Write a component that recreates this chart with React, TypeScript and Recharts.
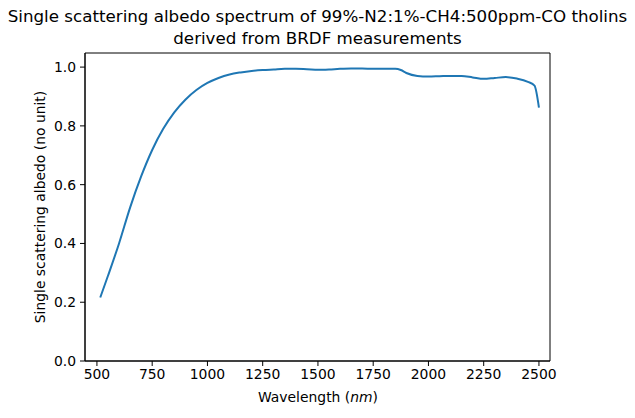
import { LineChart, Line, XAxis, YAxis, ReferenceArea } from "recharts";

const wavelengths = [
  515, 550, 600, 650, 700, 750, 800, 850, 900, 950, 1000, 1050, 1100, 1150, 1200,
  1250, 1300, 1350, 1400, 1450, 1500, 1550, 1600, 1650, 1700, 1750, 1800, 1850,
  1875, 1900, 1950, 2000, 2050, 2100, 2150, 2200, 2250, 2300, 2350, 2400, 2450,
  2480, 2500,
];
const albedo = [
  0.216, 0.29, 0.4, 0.522, 0.628, 0.718, 0.79, 0.846, 0.889, 0.922, 0.946,
  0.963, 0.975, 0.982, 0.987, 0.99, 0.992, 0.994, 0.994, 0.993, 0.991, 0.992,
  0.994, 0.995, 0.995, 0.994, 0.994, 0.994, 0.99, 0.98, 0.97, 0.968, 0.969,
  0.97, 0.97, 0.965, 0.96, 0.963, 0.966, 0.961, 0.95, 0.937, 0.862,
];
const xTicks = [500, 750, 1000, 1250, 1500, 1750, 2000, 2250, 2500];
const yTicks = [0, 0.2, 0.4, 0.6, 0.8, 1.0];
const xDomain = [446, 2550];
const yDomain = [0, 1.048];

const data = wavelengths.map((w, i) => ({ w, a: albedo[i] }));

const font = "DejaVu Sans, sans-serif";
const tickStyle = { fontSize: 13.9, fill: "#000", fontFamily: font };

export default function App() {
  return (
    <div style={{ position: "absolute", left: 0, top: 0, width: 635, height: 418, background: "#fff", fontFamily: font }}>
      <LineChart
        width={635}
        height={418}
        data={data}
        margin={{ top: 53, right: 85, left: 0, bottom: 0 }}
      >
        <XAxis
          dataKey="w"
          type="number"
          domain={xDomain}
          ticks={xTicks}
          allowDataOverflow
          height={57}
          tickSize={5}
          tickMargin={3}
          tick={tickStyle}
          stroke="#000"
          tickLine={{ stroke: "#000" }}
          axisLine={{ stroke: "#000" }}
        />
        <YAxis
          type="number"
          domain={yDomain}
          ticks={yTicks}
          allowDataOverflow
          width={85}
          tickSize={5}
          tickMargin={4}
          tick={tickStyle}
          tickFormatter={(v: number) => v.toFixed(1)}
          stroke="#000"
          tickLine={{ stroke: "#000" }}
          axisLine={{ stroke: "#000" }}
        />
        <ReferenceArea
          x1={xDomain[0]}
          x2={xDomain[1]}
          y1={yDomain[0]}
          y2={yDomain[1]}
          fill="none"
          fillOpacity={0}
          stroke="#000"
          strokeWidth={1}
          ifOverflow="visible"
        />
        <Line
          dataKey="a"
          type="monotone"
          stroke="#1f77b4"
          strokeWidth={2}
          dot={false}
          isAnimationActive={false}
        />
      </LineChart>
      <div
        style={{
          position: "absolute",
          left: 0,
          width: 635,
          top: 5,
          textAlign: "center",
          fontSize: 16.7,
          lineHeight: "22px",
          color: "#000",
        }}
      >
        Single scattering albedo spectrum of 99%-N2:1%-CH4:500ppm-CO tholins
        <br />
        derived from BRDF measurements
      </div>
      <div
        style={{
          position: "absolute",
          left: 218,
          width: 200,
          top: 389,
          textAlign: "center",
          fontSize: 13.9,
          color: "#000",
        }}
      >
        Wavelength (<i>nm</i>)
      </div>
      <div
        style={{
          position: "absolute",
          left: 40 - 150,
          top: 207 - 9,
          width: 300,
          height: 18,
          lineHeight: "18px",
          textAlign: "center",
          fontSize: 13.9,
          color: "#000",
          transform: "rotate(-90deg)",
        }}
      >
        Single scattering albedo (no unit)
      </div>
    </div>
  );
}
